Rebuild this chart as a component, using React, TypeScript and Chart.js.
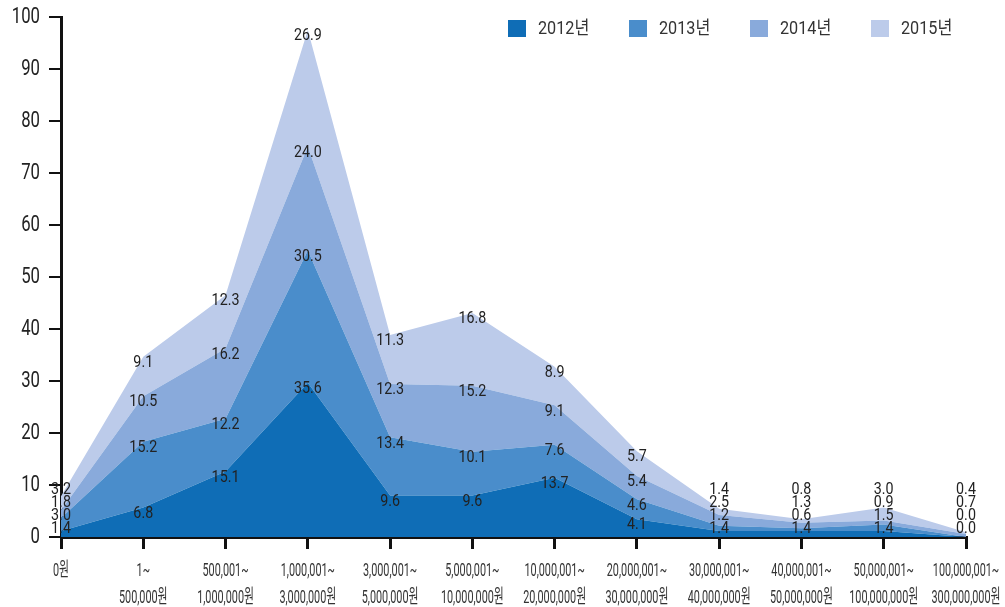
import React, { useEffect, useRef } from "react";
import { Chart, registerables } from "chart.js";

Chart.register(...registerables);

const categories: string[][] = [
  ["0원"],
  ["1~", "500,000원"],
  ["500,001~", "1,000,000원"],
  ["1,000,001~", "3,000,000원"],
  ["3,000,001~", "5,000,000원"],
  ["5,000,001~", "10,000,000원"],
  ["10,000,001~", "20,000,000원"],
  ["20,000,001~", "30,000,000원"],
  ["30,000,001~", "40,000,000원"],
  ["40,000,001~", "50,000,000원"],
  ["50,000,001~", "100,000,000원"],
  ["100,000,001~", "300,000,000원"],
];

const seriesNames = ["2012년", "2013년", "2014년", "2015년"];

const values2012 = [1.4, 6.8, 15.1, 35.6, 9.6, 9.6, 13.7, 4.1, 1.4, 1.4, 1.4, 0.0];
const values2013 = [3.0, 15.2, 12.2, 30.5, 13.4, 10.1, 7.6, 4.6, 1.2, 0.6, 1.5, 0.0];
const values2014 = [1.8, 10.5, 16.2, 24.0, 12.3, 15.2, 9.1, 5.4, 2.5, 1.3, 0.9, 0.7];
const values2015 = [3.2, 9.1, 12.3, 26.9, 11.3, 16.8, 8.9, 5.7, 1.4, 0.8, 3.0, 0.4];

const yTickLabels = ["0", "10", "20", "30", "40", "50", "60", "70", "80", "90", "100"];

const colors = ["#0f6db6", "#4a8dcb", "#89aadb", "#bccbea"];

const allSeries = [values2012, values2013, values2014, values2015];

const FONT = 'Roboto, "Noto Sans CJK KR", sans-serif';

function squeezedText(ctx: any, text: string, x: number, y: number, sx: number) {
  ctx.save();
  ctx.translate(x, y);
  ctx.scale(sx, 1);
  ctx.fillText(text, 0, 0);
  ctx.restore();
}

const valueLabelPlugin = {
  id: "valueLabels",
  afterDatasetsDraw(chart: any) {
    const ctx = chart.ctx;
    const xs = chart.scales.x;
    const ys = chart.scales.y;
    ctx.save();
    ctx.font = `17px ${FONT}`;
    ctx.fillStyle = "#222";
    ctx.textAlign = "center";
    ctx.textBaseline = "middle";
    const bottom = ys.getPixelForValue(0);
    categories.forEach((_, i) => {
      const x = xs.getPixelForValue(i);
      let cum = 0;
      let prevY = Infinity;
      allSeries.forEach((s) => {
        cum += s[i];
        let y = Math.min(ys.getPixelForValue(cum) + 6, bottom - 8);
        if (y > prevY - 13) y = prevY - 13;
        prevY = y;
        squeezedText(ctx, s[i].toFixed(1), x, y, 0.84);
      });
    });
    ctx.restore();
  },
};

const axisTextPlugin = {
  id: "axisText",
  afterDraw(chart: any) {
    const ctx = chart.ctx;
    const xs = chart.scales.x;
    const ys = chart.scales.y;
    ctx.save();
    ctx.fillStyle = "#333";
    ctx.textBaseline = "middle";
    ctx.font = `19px ${FONT}`;
    ctx.textAlign = "center";
    categories.forEach((lines, i) => {
      const x = xs.getPixelForValue(i);
      lines.forEach((line, k) => {
        squeezedText(ctx, line, x, 571 + k * 27, 0.57);
      });
    });
    ctx.fillStyle = "#222";
    ctx.font = `22px ${FONT}`;
    ctx.textAlign = "right";
    ys.ticks.forEach((_t: any, idx: number) => {
      const y = ys.getPixelForTick(idx);
      squeezedText(ctx, yTickLabels[idx] ?? "", 40, y, 0.76);
    });
    ctx.restore();
  },
};

const legendPlugin = {
  id: "customLegend",
  afterDraw(chart: any) {
    const ctx = chart.ctx;
    ctx.save();
    ctx.font = `18px ${FONT}`;
    ctx.textBaseline = "middle";
    ctx.textAlign = "left";
    seriesNames.forEach((name, i) => {
      const x0 = 508 + i * 121;
      ctx.fillStyle = colors[i];
      ctx.fillRect(x0, 20, 18, 17);
      ctx.fillStyle = "#333";
      squeezedText(ctx, name, x0 + 30, 29, 0.9);
    });
    ctx.restore();
  },
};

export default function App() {
  const ref = useRef<HTMLCanvasElement>(null);
  useEffect(() => {
    if (!ref.current) return;
    const chart = new Chart(ref.current, {
      type: "line",
      data: {
        labels: categories.map((c) => c.join(" ")),
        datasets: allSeries.map((s, i) => ({
          label: seriesNames[i],
          data: s,
          backgroundColor: colors[i],
          borderColor: colors[i],
          borderWidth: 0,
          pointRadius: 0,
          tension: 0,
          fill: i === 0 ? "origin" : "-1",
        })),
      },
      options: {
        animation: false,
        responsive: false,
        maintainAspectRatio: false,
        layout: { padding: { top: 17, right: 39, left: 0, bottom: 0 } },
        plugins: {
          legend: { display: false },
          tooltip: { enabled: false },
        },
        scales: {
          x: {
            offset: false,
            grid: {
              drawOnChartArea: false,
              drawTicks: true,
              tickLength: 12,
              lineWidth: 3,
              color: "#111",
            },
            border: { display: true, color: "#111", width: 3 },
            ticks: { display: false },
            afterFit: (scale: any) => {
              scale.height = 70;
            },
          },
          y: {
            stacked: true,
            min: 0,
            max: 120,
            grid: {
              drawOnChartArea: false,
              drawTicks: true,
              tickLength: 12,
              lineWidth: 2,
              color: "#111",
            },
            border: { display: true, color: "#111", width: 3 },
            ticks: {
              stepSize: 12,
              display: false,
            },
            afterFit: (scale: any) => {
              scale.width = 61;
            },
          },
        },
      },
      plugins: [valueLabelPlugin, axisTextPlugin, legendPlugin],
    });
    return () => chart.destroy();
  }, []);
  return (
    <div style={{ position: "fixed", left: 0, top: 0, width: 1005, height: 607, background: "#fff" }}>
      <canvas ref={ref} width={1005} height={607} style={{ width: 1005, height: 607 }} />
    </div>
  );
}
